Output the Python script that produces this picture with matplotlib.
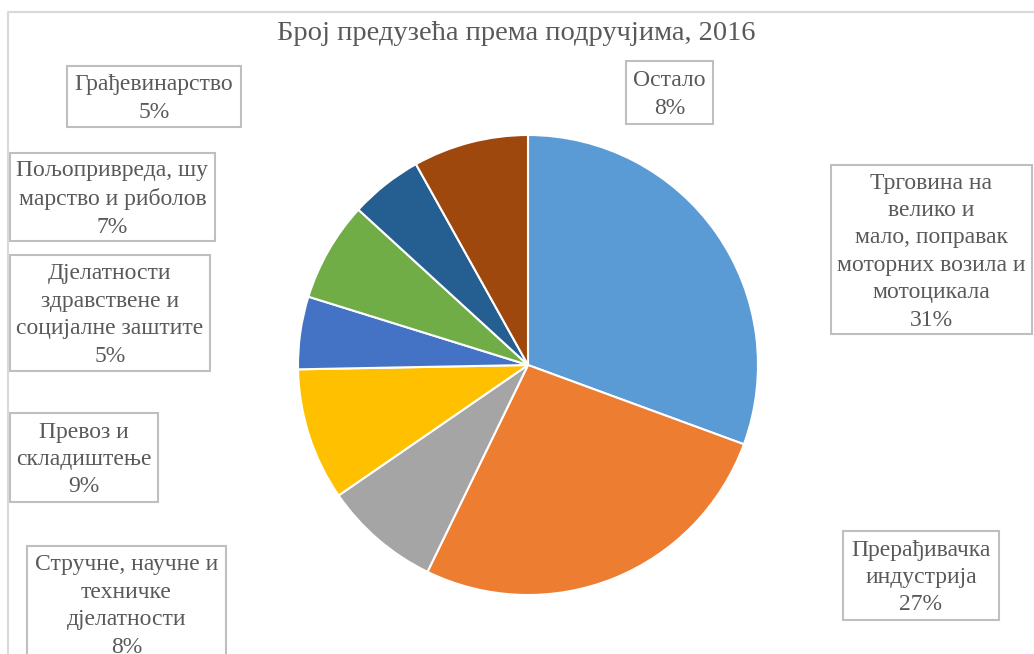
"""Pie chart: number of enterprises by sector, 2016."""

import matplotlib

matplotlib.use("Agg")
import matplotlib.pyplot as plt
from matplotlib.patches import Rectangle

TITLE = "Број предузећа према подручјима, 2016"

# slices, clockwise from 12 o'clock
categories = [
    "Трговина на\nвелико и\nмало, поправак\nмоторних возила и\nмотоцикала",
    "Прерађивачка\nиндустрија",
    "Стручне, научне и\nтехничке\nдјелатности",
    "Превоз и\nскладиштење",
    "Дјелатности\nздравствене и\nсоцијалне заштите",
    "Пољопривреда, шу\nмарство и риболов",
    "Грађевинарство",
    "Остало",
]
shares = [30.6, 26.6, 8.2, 9.3, 5.1, 7.0, 5.1, 8.1]
colors = ["#5B9BD5", "#ED7D31", "#A5A5A5", "#FFC000",
          "#4472C4", "#70AD47", "#255E91", "#9E480E"]

# label boxes in pixel coords: left, top, right, bottom
boxes = [
    (831, 165, 1032, 334),
    (843, 531, 999, 620),
    (27, 546, 226, 664),
    (10, 413, 158, 502),
    (10, 255, 210, 371),
    (10, 153, 215, 241),
    (67, 66, 241, 127),
    (626, 61, 713, 124),
]

TEXT = "#595959"
FONT = "Liberation Serif"
W, H = 1034, 654

fig = plt.figure(figsize=(W / 100, H / 100), dpi=100)
ax = fig.add_axes([0, 0, 1, 1])

# y axis runs downwards, so counterclockwise in data = clockwise on screen
ax.pie(shares, colors=colors, center=(528, 365), radius=230,
       startangle=-90, counterclock=True,
       wedgeprops={"edgecolor": "white", "linewidth": 1.5})

ax.set_xlim(0, W)
ax.set_ylim(H, 0)
ax.set_aspect("auto")
ax.axis("off")

# chart area frame (only left and top edges are visible)
ax.plot([8, 8, W + 5], [H + 5, 12, 12], color="#D9D9D9", linewidth=1.5,
        clip_on=False)

total = sum(shares)
for name, val, (l, t, r, b) in zip(categories, shares, boxes):
    ax.add_patch(Rectangle((l, t), r - l, b - t, facecolor="white",
                           edgecolor="#BFBFBF", linewidth=1.5))
    label = f"{name}\n{val / total * 100:.0f}%"
    cy = (t + b) / 2 + 2 if b <= H else 606
    ax.text((l + r) / 2, cy, label, ha="center", va="center",
            multialignment="center", fontsize=17, family=FONT,
            color=TEXT, linespacing=1.4)

ax.text(516, 33, TITLE, ha="center", va="center", fontsize=20.5,
        family=FONT, color=TEXT)

fig.savefig("out.png", dpi=100)
plt.close(fig)
